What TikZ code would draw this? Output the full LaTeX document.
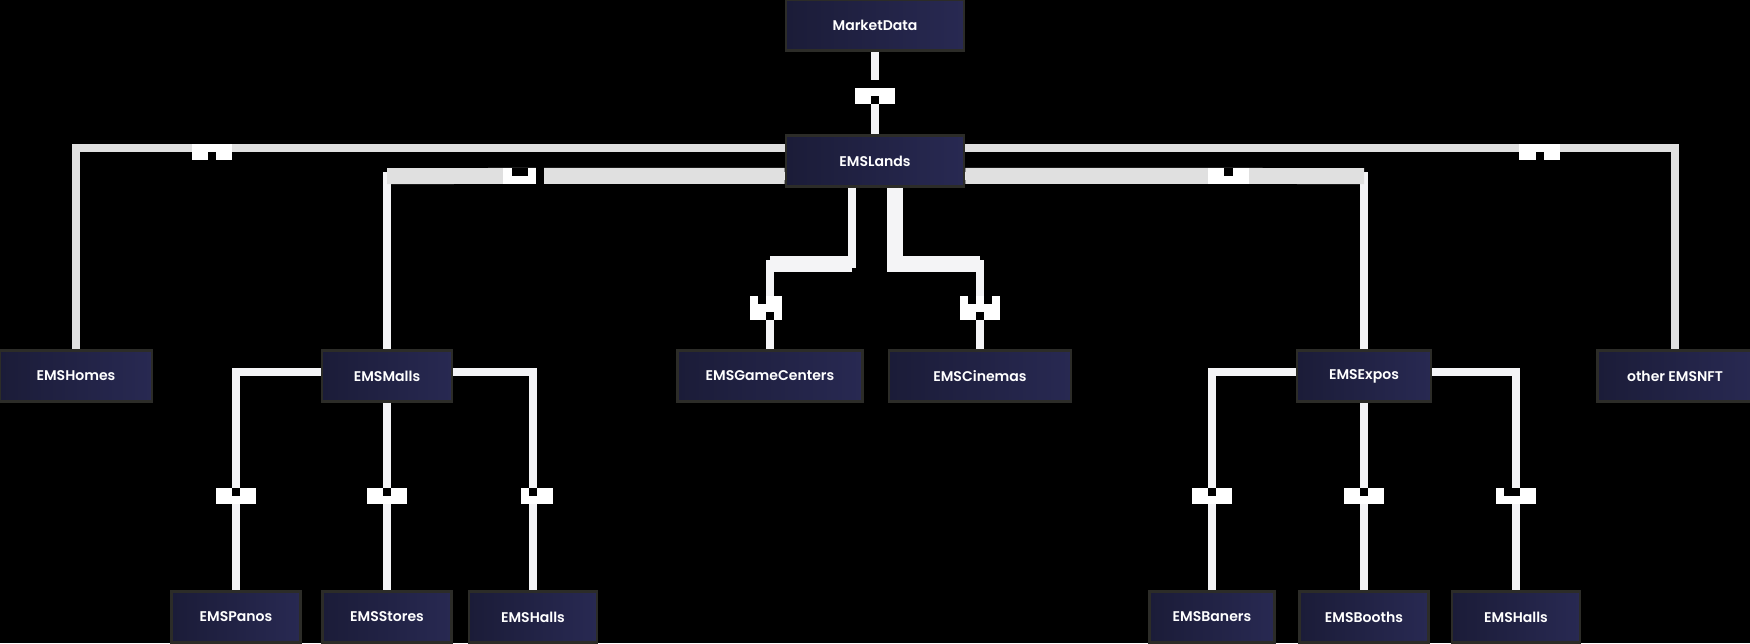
\documentclass[tikz,border=0pt]{standalone}
\usepackage{fontspec}
\setmainfont{Poppins}[BoldFont={Poppins SemiBold}]
\definecolor{boxleft}{HTML}{1B1C38}
\definecolor{boxright}{HTML}{282952}
\definecolor{boxedge}{HTML}{2C2C28}
\definecolor{linewhite}{HTML}{F4F4F6}
\definecolor{linegrey}{HTML}{E0E0E0}
\tikzstyle{entity} = [
    rectangle,
    minimum height=1.02cm,
    left color=boxleft,
    right color=boxright,
    draw=boxedge,
    line width=1.6pt,
    text=white,
    font=\bfseries\fontsize{8}{10}\selectfont
]
\tikzstyle{link} = [line width=0.16cm, draw=linewhite]
\tikzstyle{widelink} = [line width=0.32cm, draw=linegrey]
\tikzstyle{knob} = [fill=white]
\tikzstyle{notch} = [fill=black]

\begin{document}
\begin{tikzpicture}[x=0.02cm, y=-0.02cm, node distance=2.72cm]

\fill[black] (0,0) rectangle (1750,643);
\useasboundingbox (0,0) rectangle (1750,643);

\node (market) [entity, minimum width=3.56cm] at (875,25) {MarketData};

\node (lands) [entity, minimum width=3.56cm, below of=market] {EMSLands};

\node (homes) [entity, minimum width=3.04cm] at (76,376) {EMSHomes};
\node (malls) [entity, minimum width=2.6cm] at (387,376) {EMSMalls};
\node (games) [entity, minimum width=3.7cm] at (770,376) {EMSGameCenters};
\node (cinemas) [entity, minimum width=3.64cm] at (980,376) {EMSCinemas};
\node (expos) [entity, minimum width=2.68cm] at (1364,376) {EMSExpos};
\node (nft) [entity, minimum width=3.1cm] at (1675,376) {other EMSNFT};

\node (panos) [entity, minimum width=2.58cm] at (236,617) {EMSPanos};
\node (stores) [entity, minimum width=2.58cm, node distance=4.82cm, below of=malls] {EMSStores};
\node (mallhalls) [entity, minimum width=2.56cm] at (533,617) {EMSHalls};
\node (baners) [entity, minimum width=2.5cm] at (1212,617) {EMSBaners};
\node (booths) [entity, minimum width=2.58cm, node distance=4.82cm, below of=expos] {EMSBooths};
\node (expohalls) [entity, minimum width=2.56cm] at (1516,617) {EMSHalls};

\coordinate (mallsbend) at (malls.north |- 0,176);
\coordinate (exposbend) at (expos.north |- 0,176);
\coordinate (gamesknee) at (852,264);
\coordinate (cinemasknee) at (895,264);

% MarketData to EMSLands
\draw [link] (market) -- (lands);
\fill [notch] (871,80) rectangle (879,88);
\fill [knob] (855,88) rectangle (895,104);
\fill [notch] (871,96) rectangle (879,104);

% EMSLands to the outer ones
\draw [link, draw=linegrey] ([yshift=0.26cm]lands.west) -| (homes.north);
\draw [link, draw=linegrey] ([yshift=0.26cm]lands.east) -| (nft.north);
\fill [knob] (192,144) rectangle (232,160);
\fill [notch] (208,152) rectangle (216,160);
\fill [knob] (1519,144) rectangle (1560,160);
\fill [notch] (1536,152) rectangle (1544,160);

% EMSLands to EMSMalls and EMSExpos
\draw [link] ([yshift=-0.3cm]lands.west) -| (malls.north);
\draw [widelink] ([yshift=-0.3cm]lands.west) -- (mallsbend);
\draw [link] ([yshift=-0.3cm]lands.east) -| (expos.north);
\draw [widelink] ([yshift=-0.3cm]lands.east) -- (exposbend);
\fill [knob] (503,168) rectangle (536,184);
\fill [notch] (512,168) rectangle (528,176);
\fill [notch] (536,164) rectangle (544,188);
\fill [knob] (1208,168) rectangle (1249,184);
\fill [notch] (1224,168) rectangle (1233,176);

% EMSLands to EMSGameCenters and EMSCinemas
\draw [link] (lands.south -| gamesknee) -- (gamesknee) -| (games.north);
\draw [widelink, draw=linewhite] (gamesknee) -- (gamesknee -| games.north);
\draw [link] (lands.south -| cinemasknee) -- (cinemasknee) -| (cinemas.north);
\draw [widelink, draw=linewhite] (lands.south -| cinemasknee) -- (cinemasknee) -- (cinemasknee -| cinemas.north);
\fill [knob] (750,296) rectangle (782,320);
\fill [notch] (758,296) rectangle (766,304);
\fill [notch] (766,312) rectangle (774,320);
\fill [knob] (960,296) rectangle (1000,320);
\fill [notch] (968,296) rectangle (976,304);
\fill [notch] (984,296) rectangle (992,304);
\fill [notch] (976,312) rectangle (984,320);

% EMSMalls children
\draw [link] ([yshift=0.08cm]malls.west) -| (panos.north);
\draw [link] (malls) -- (stores);
\draw [link] ([yshift=0.08cm]malls.east) -| (mallhalls.north);

% EMSExpos children
\draw [link] ([yshift=0.08cm]expos.west) -| (baners.north);
\draw [link] (expos) -- (booths);
\draw [link] ([yshift=0.08cm]expos.east) -| (expohalls.north);

\fill [knob] (216,488) rectangle (256,504);
\fill [notch] (232,488) rectangle (240,496);
\fill [knob] (367,488) rectangle (407,504);
\fill [notch] (383,488) rectangle (391,496);
\fill [knob] (521,488) rectangle (553,504);
\fill [notch] (529,488) rectangle (537,496);
\fill [knob] (1192,488) rectangle (1232,504);
\fill [notch] (1208,488) rectangle (1216,496);
\fill [knob] (1344,488) rectangle (1384,504);
\fill [notch] (1360,488) rectangle (1368,496);
\fill [knob] (1496,488) rectangle (1536,504);
\fill [notch] (1504,488) rectangle (1520,496);

\end{tikzpicture}
\end{document}
